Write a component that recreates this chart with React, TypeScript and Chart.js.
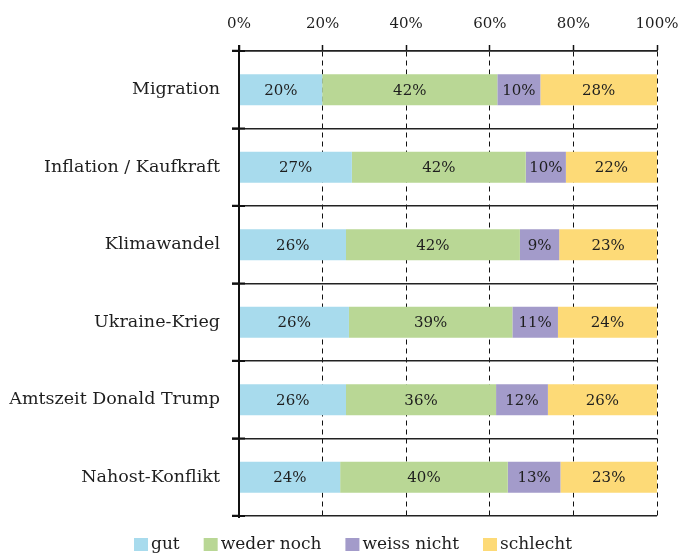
import React, { useEffect, useRef } from "react";
import { Chart, registerables } from "chart.js";

Chart.register(...registerables);

const categories = [
  "Migration",
  "Inflation / Kaufkraft",
  "Klimawandel",
  "Ukraine-Krieg",
  "Amtszeit Donald Trump",
  "Nahost-Konflikt",
];
const seriesNames = ["gut", "weder noch", "weiss nicht", "schlecht"];
const gut = [19.9, 27.0, 25.6, 26.3, 25.6, 24.2];
const wederNoch = [41.9, 41.6, 41.6, 39.1, 35.9, 40.1];
const weissNicht = [10.3, 9.6, 9.4, 10.9, 12.4, 12.6];
const schlecht = [27.9, 21.8, 23.4, 23.7, 26.1, 23.1];
const xTicks = [0, 20, 40, 60, 80, 100];

const colors = ["#a8dbed", "#b9d795", "#a39bca", "#fdda77"];
const FONT = "'DejaVu Serif', serif";
const TEXT = "#1e1e1e";

const labelPlugin = {
  id: "segLabels",
  afterDatasetsDraw(chart: any) {
    const ctx = chart.ctx;
    ctx.save();
    ctx.font = `15px ${FONT}`;
    ctx.fillStyle = TEXT;
    ctx.textAlign = "center";
    ctx.textBaseline = "middle";
    chart.data.datasets.forEach((ds: any, di: number) => {
      const meta = chart.getDatasetMeta(di);
      meta.data.forEach((bar: any, i: number) => {
        const v = ds.data[i];
        const p = bar.getProps(["x", "y", "base"], true);
        const cx = (p.x + p.base) / 2;
        ctx.fillText(Math.round(v) + "%", cx, p.y + 1);
      });
    });
    ctx.restore();
  },
};

const axisPlugin = {
  id: "axisExtras",
  afterDraw(chart: any) {
    const ctx = chart.ctx;
    const area = chart.chartArea;
    const y = chart.scales.y;
    const n = chart.data.labels.length;
    const step = n > 1 ? y.getPixelForValue(1) - y.getPixelForValue(0) : 0;
    ctx.save();
    ctx.strokeStyle = "#111";
    ctx.lineWidth = 2;
    ctx.beginPath();
    ctx.moveTo(area.left, area.top - 6);
    ctx.lineTo(area.left, area.bottom + 2);
    ctx.stroke();
    for (let i = 0; i <= n; i++) {
      const py = y.getPixelForValue(0) - step / 2 + i * step;
      ctx.beginPath();
      ctx.moveTo(area.left - 7, py);
      ctx.lineTo(area.left + 6, py);
      ctx.stroke();
    }
    ctx.restore();
  },
};

const legendPlugin = {
  id: "customLegend",
  afterDraw(chart: any) {
    const ctx = chart.ctx;
    ctx.save();
    ctx.font = `17px ${FONT}`;
    ctx.textBaseline = "middle";
    ctx.textAlign = "left";
    const boxW = 14;
    const boxH = 13;
    const gap = 3;
    const spacing = 24;
    const widths = seriesNames.map((s) => boxW + gap + ctx.measureText(s).width);
    const total = widths.reduce((a, b) => a + b, 0) + spacing * (widths.length - 1);
    let x = 353 - total / 2;
    const cy = 544.5;
    seriesNames.forEach((s, i) => {
      ctx.fillStyle = colors[i];
      ctx.fillRect(x, cy - boxH / 2, boxW, boxH);
      ctx.fillStyle = TEXT;
      ctx.fillText(s, x + boxW + gap, cy);
      x += widths[i] + spacing;
    });
    ctx.restore();
  },
};

export default function App() {
  const ref = useRef<HTMLCanvasElement | null>(null);
  useEffect(() => {
    document.body.style.margin = "0";
    const all = [gut, wederNoch, weissNicht, schlecht];
    const chart = new Chart(ref.current!, {
      type: "bar",
      data: {
        labels: categories,
        datasets: all.map((d, i) => ({
          label: seriesNames[i],
          data: d,
          backgroundColor: colors[i],
          borderWidth: 0,
          barPercentage: 0.4,
          categoryPercentage: 1,
        })),
      },
      options: {
        indexAxis: "y",
        animation: false,
        responsive: false,
        maintainAspectRatio: false,
        layout: { padding: { left: 0, right: 22, top: 0, bottom: 37 } },
        plugins: {
          tooltip: { enabled: false },
          legend: { display: false },
        },
        scales: {
          x: {
            position: "top",
            stacked: true,
            min: 0,
            max: 100,
            afterBuildTicks: (scale: any) => {
              scale.ticks = xTicks.map((v) => ({ value: v }));
            },
            afterFit: (scale: any) => {
              scale.height = 51;
              scale.paddingLeft = 0;
              scale.paddingRight = 0;
            },
            ticks: {
              callback: (v: any) => v + "%",
              color: TEXT,
              font: { family: FONT, size: 15 },
              padding: 12,
              maxRotation: 0,
            },
            grid: {
              color: "#111",
              lineWidth: 1,
              tickBorderDash: [],
              tickLength: 6,
              tickColor: "#111",
              tickWidth: 1.5,
            },
            border: { display: true, color: "#222", width: 1.5, dash: [5, 4] },
          },
          y: {
            stacked: true,
            afterFit: (scale: any) => {
              scale.width = 239;
              scale.paddingTop = 0;
              scale.paddingBottom = 0;
            },
            ticks: {
              color: TEXT,
              font: { family: FONT, size: 17.5 },
              padding: 12,
            },
            grid: {
              color: "#222",
              lineWidth: 1.5,
              tickLength: 7,
              tickColor: "#111",
              tickWidth: 2,
            },
            border: { display: true, color: "#111", width: 2 },
          },
        },
      },
      plugins: [labelPlugin, axisPlugin, legendPlugin],
    } as any);
    return () => chart.destroy();
  }, []);
  return (
    <div style={{ width: 679, height: 553 }}>
      <canvas ref={ref} width={679} height={553} style={{ display: "block" }} />
    </div>
  );
}
